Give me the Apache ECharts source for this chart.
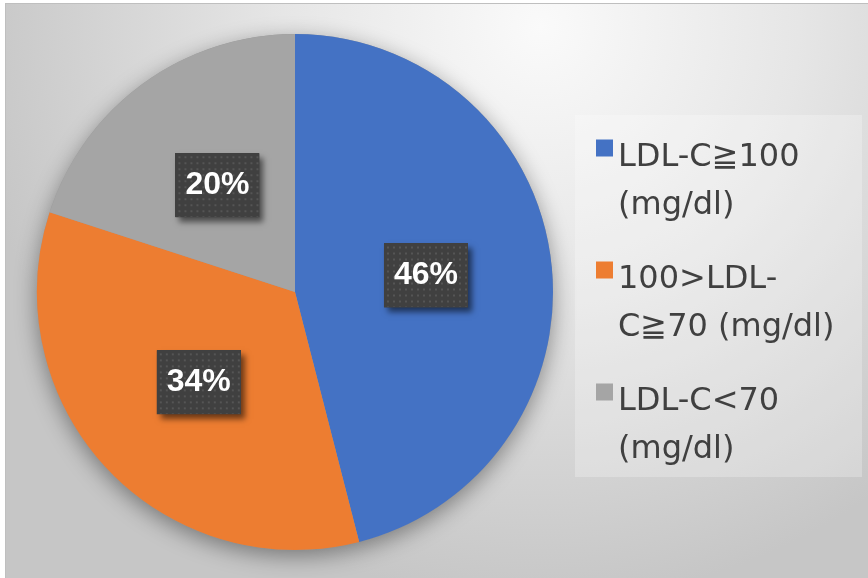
<!DOCTYPE html>
<html>
<head>
<meta charset="utf-8">
<script src="https://cdn.jsdelivr.net/npm/echarts@6/dist/echarts.min.js"></script>
<style>
  html, body { margin: 0; padding: 0; background: #ffffff; }
  #wrap { position: absolute; left: 5px; top: 3px; border-left: 1px solid #bfbfbf; border-top: 1px solid #bfbfbf; }
  #chart { width: 862px; height: 574px; }
</style>
</head>
<body>
<div id="wrap"><div id="chart"></div></div>
<script>
const categories = ['LDL-C≧100 (mg/dl)', '100>LDL-C≧70 (mg/dl)', 'LDL-C<70 (mg/dl)'];
const legendLines = [['LDL-C≧100', '(mg/dl)'], ['100>LDL-', 'C≧70 (mg/dl)'], ['LDL-C<70', '(mg/dl)']];
const values = [46, 34, 20];
const colors = ['#4472C4', '#ED7D31', '#A5A5A5'];

// dotted dark label background
function makePattern(w, h) {
  const c = document.createElement('canvas');
  c.width = w; c.height = h;
  const ctx = c.getContext('2d');
  ctx.fillStyle = '#404040';
  ctx.fillRect(0, 0, w, h);
  ctx.fillStyle = '#555555';
  for (let y = 3; y < h; y += 6) {
    for (let x = 3; x < w; x += 6) {
      ctx.fillRect(x, y, 2, 2);
    }
  }
  return c;
}
const LW = 84, LH = 64;
const pattern = makePattern(LW, LH);

const chart = echarts.init(document.getElementById('chart'));
const L = 48;
const center = [289, 288];
const radius = 258;

chart.setOption({
  backgroundColor: {
    type: 'radial', x: 0.62, y: 0.04, r: 1.0,
    colorStops: [
      { offset: 0, color: '#fafafa' },
      { offset: 0.45, color: '#e6e6e6' },
      { offset: 1, color: '#c6c6c6' }
    ]
  },
  graphic: [{
    type: 'rect', z: -1, silent: true,
    shape: { x: 569, y: 111, width: 287, height: 362 },
    style: { fill: 'rgba(255,255,255,0.25)' }
  }],
  legend: {
    orient: 'vertical',
    left: 590,
    top: 91,
    padding: 0,
    itemWidth: 17,
    itemHeight: 17,
    itemGap: -5,
    icon: 'rect',
    data: categories,
    formatter: name => {
      const ls = legendLines[categories.indexOf(name)];
      return '{s| }\n{a|' + ls[0] + '}\n{a|' + ls[1] + '}';
    },
    textStyle: {
      color: '#404040',
      rich: {
        s: { fontSize: 10, lineHeight: 68 },
        a: {
          fontFamily: '"DejaVu Sans", sans-serif',
          fontSize: 32,
          color: '#404040',
          lineHeight: L
        }
      }
    }
  },
  series: [{
    type: 'pie',
    silent: true,
    center: center,
    radius: radius,
    z: 1,
    label: { show: false },
    labelLine: { show: false },
    itemStyle: {
      color: '#999999',
      shadowBlur: 22,
      shadowOffsetY: 6,
      shadowColor: 'rgba(0,0,0,0.4)'
    },
    data: [{ value: 1, name: '_bg' }]
  }, {
    type: 'pie',
    center: center,
    radius: radius,
    z: 2,
    startAngle: 90,
    clockwise: true,
    animation: false,
    itemStyle: { borderWidth: 0 },
    label: {
      show: true,
      position: 'inside',
      formatter: p => '{v|' + p.value + '%}',
      padding: 0,
      backgroundColor: '#404040',
      shadowBlur: 6,
      shadowOffsetX: 4,
      shadowOffsetY: 5,
      shadowColor: 'rgba(0,0,0,0.55)',
      rich: {
        v: {
          fontFamily: '"Liberation Sans", Arial, sans-serif',
          fontWeight: 'bold',
          fontSize: 32,
          color: '#ffffff',
          width: LW,
          height: LH,
          lineHeight: LH,
          align: 'center',
          verticalAlign: 'middle',
          backgroundColor: { image: pattern }
        }
      }
    },
    labelLine: { show: false },
    data: categories.map((n, i) => ({ name: n, value: values[i], itemStyle: { color: colors[i] } }))
  }]
});
</script>
</body>
</html>
